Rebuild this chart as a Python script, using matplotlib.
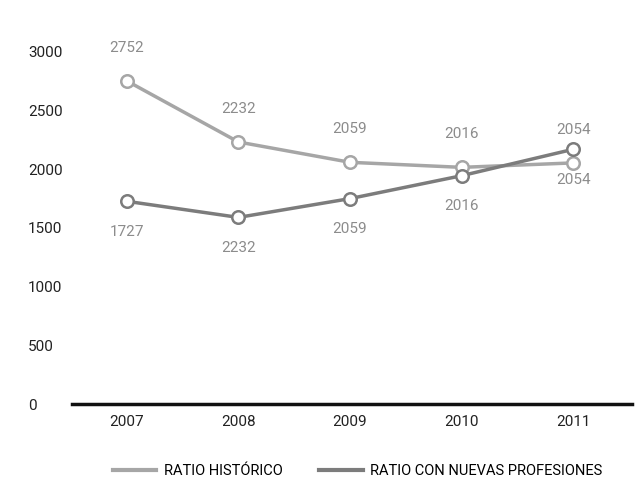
import matplotlib
matplotlib.use("Agg")
import matplotlib.pyplot as plt

years = ["2007", "2008", "2009", "2010", "2011"]
historico = [2752, 2232, 2059, 2016, 2054]
nuevas = [1727, 1590, 1750, 1945, 2170]
historico_labels = ["2752", "2232", "2059", "2016", "2054"]
nuevas_labels = ["1727", "2232", "2059", "2016", "2054"]
yticks = [0, 500, 1000, 1500, 2000, 2500, 3000]

plt.rcParams['font.family'] = ['Roboto', 'DejaVu Sans']

c_hist = "#a6a6a6"
c_new = "#7c7c7c"
lab_col = "#8c8c8c"

fig = plt.figure(figsize=(6.44, 4.84), dpi=100)
ax = fig.add_axes([0.112, 0.165, 0.870, 0.728])
x = list(range(len(years)))

ax.plot(x, historico, color=c_hist, lw=2.5, marker='o', ms=9, mfc='white',
        mec=c_hist, mew=1.8, label="RATIO HISTÓRICO", zorder=3)
ax.plot(x, nuevas, color=c_new, lw=2.5, marker='o', ms=9, mfc='white',
        mec=c_new, mew=1.8, label="RATIO CON NUEVAS PROFESIONES", zorder=3)

for xi, v, t in zip(x, historico, historico_labels):
    ax.annotate(t, (xi, v), xytext=(0, 24), textcoords='offset points',
                ha='center', va='center', fontsize=11, color=lab_col)
for xi, v, t in zip(x, nuevas, nuevas_labels):
    ax.annotate(t, (xi, v), xytext=(0, -22), textcoords='offset points',
                ha='center', va='center', fontsize=11, color=lab_col)

ax.set_xlim(-0.49, 4.53)
ax.set_ylim(0, 3000)
ax.set_xticks(x)
ax.set_xticklabels(years, fontsize=11, color="#222222")
ax.set_yticks(yticks)
ax.set_yticklabels([str(v) for v in yticks], fontsize=11, color="#222222", ha='left')
ax.tick_params(axis='y', length=0, pad=31.7)
ax.tick_params(axis='x', length=0, pad=8)
for s in ['top', 'right', 'left']:
    ax.spines[s].set_visible(False)
ax.spines['bottom'].set_linewidth(2.5)
ax.spines['bottom'].set_color('#111111')

leg = fig.legend(loc='lower center', bbox_to_anchor=(0.555, -0.015), ncol=2, frameon=False,
                 fontsize=10.5, handlelength=3, handletextpad=0.5, columnspacing=2.5)
for h in leg.legend_handles:
    h.set_marker('')
    h.set_linewidth(3)

fig.savefig("out.png", dpi=100, facecolor='white')
